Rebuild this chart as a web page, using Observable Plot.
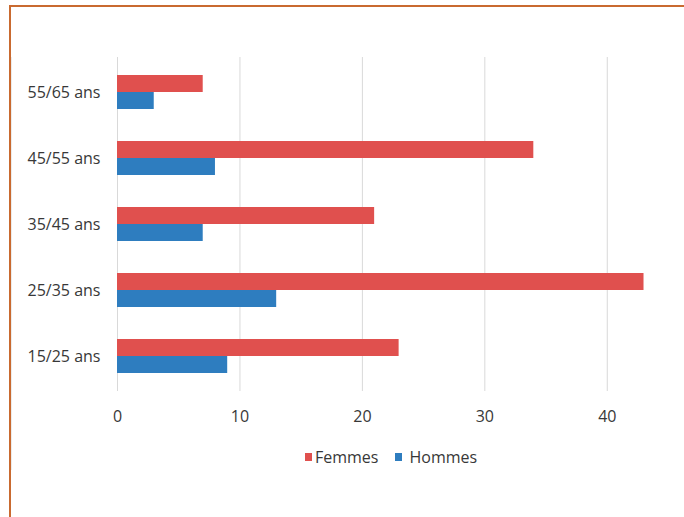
<!DOCTYPE html>
<html>
<head>
<meta charset="utf-8">
<script src="https://cdn.jsdelivr.net/npm/d3@7"></script>
<script src="https://cdn.jsdelivr.net/npm/@observablehq/plot@0.6"></script>
<style>
  html, body { margin: 0; padding: 0; background: #fff; }
  #wrap { position: relative; width: 684px; height: 517px; overflow: hidden; font-family: "Open Sans", sans-serif; }
  #chart svg { display: block; }
  .border-top { position: absolute; left: 9px; top: 5px; width: 675px; height: 2px; background: #c96a30; }
  .border-left { position: absolute; left: 9px; top: 5px; width: 2px; height: 512px; background: #c96a30; }
  .inner-left { position: absolute; left: 11px; top: 57px; width: 1px; height: 413px; background: #ececec; }
  #legend { position: absolute; left: 305px; top: 446px; height: 22px; line-height: 22px; display: flex; align-items: center; font-size: 16px; color: #383838; }
  .item { display: flex; align-items: center; }
  .item + .item { margin-left: 17px; }
  .sw { width: 7px; height: 8px; margin-right: 3px; }
  .item + .item .sw { margin-right: 7px; }
</style>
</head>
<body>
<div id="wrap">
  <div id="chart"></div>
  <div class="border-top"></div>
  <div class="border-left"></div>
  <div class="inner-left"></div>
  <div id="legend"></div>
</div>
<script>
const categories = ["55/65 ans", "45/55 ans", "35/45 ans", "25/35 ans", "15/25 ans"];
const femmes = [7, 34, 21, 43, 23];
const hommes = [3, 8, 7, 13, 9];
const xTicks = [0, 10, 20, 30, 40];
const seriesNames = ["Femmes", "Hommes"];
const seriesColors = ["#e0504e", "#2e7dbf"];

const dataF = categories.map((c, i) => ({age: c, value: femmes[i]}));
const dataH = categories.map((c, i) => ({age: c, value: hommes[i]}));

const chart = Plot.plot({
  width: 684,
  height: 430,
  marginTop: 57,
  marginBottom: 39,
  marginLeft: 117,
  marginRight: 16,
  style: {fontFamily: "Open Sans", fontSize: "16px", color: "#383838", background: "transparent"},
  x: {domain: [0, 45], ticks: xTicks, label: null, tickSize: 0, tickPadding: 19},
  y: {domain: categories, paddingInner: 0.4848, paddingOuter: 0.2727, label: null, tickSize: 0, tickPadding: 17},
  marks: [
    Plot.gridX(xTicks, {stroke: "#d9d9d9", strokeOpacity: 1, strokeWidth: 1}),
    Plot.barX(dataF, {y: "age", x: "value", fill: seriesColors[0], insetBottom: 17, insetTop: 0}),
    Plot.barX(dataH, {y: "age", x: "value", fill: seriesColors[1], insetTop: 17, insetBottom: 0}),
    Plot.axisX(xTicks, {tickSize: 0, tickPadding: 19, label: null}),
    Plot.axisY({tickSize: 0, tickPadding: 17, label: null})
  ]
});
document.getElementById("chart").appendChild(chart);

const legend = document.getElementById("legend");
seriesNames.forEach((name, i) => {
  const item = document.createElement("div");
  item.className = "item";
  const sw = document.createElement("div");
  sw.className = "sw";
  sw.style.background = seriesColors[i];
  const t = document.createElement("span");
  t.textContent = name;
  item.appendChild(sw);
  item.appendChild(t);
  legend.appendChild(item);
});
</script>
</body>
</html>
